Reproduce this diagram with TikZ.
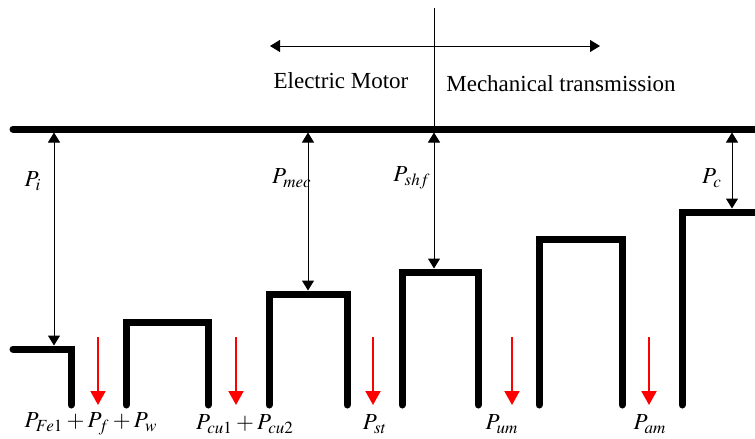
\documentclass[tikz,border=0pt]{standalone}
\usepackage{mathptmx}
\usepackage{fontspec}
\setmainfont{Liberation Serif}
\usetikzlibrary{arrows.meta,positioning}

\tikzset{
  wall/.style={line width=3.5pt,line join=miter,line cap=round},
  flow/.style={line width=0.5pt,{Triangle[length=5pt,width=6pt]}-{Triangle[length=5pt,width=6pt]}},
  loss/.style={red,line width=1pt,-{Triangle[length=7pt,width=7.5pt]}},
  lbl/.style={font=\fontsize{11.5}{13}\selectfont,inner sep=0pt}
}

\begin{document}
\begin{tikzpicture}[x=0.5pt,y=-0.5pt]
  \useasboundingbox (0,0) rectangle (755,439);
  % divider and direction
  \coordinate (divtop) at (434,8);
  \coordinate (divbot) at (434,129);
  \coordinate (dirL) at (270,46);
  \coordinate (dirR) at (600,46);
  \draw[line width=0.5pt] (divtop) -- (divbot);
  \draw[flow] (dirL) -- (dirR);
  \node[lbl,anchor=base] (motor) at (341,88) {Electric Motor};
  \node[lbl,anchor=base] (trans) at (561,91) {Mechanical transmission};
  % power bus
  \draw[wall] (13,129) -- (760,129);
  % stages
  \draw[wall] (13,349) -- (71,349) -- (71,405);
  \draw[wall] (126,405) -- (126,322) -- (208,322) -- (208,405);
  \draw[wall] (269,405) -- (269,294) -- (347,294) -- (347,405);
  \draw[wall] (402,405) -- (402,272) -- (478,272) -- (478,405);
  \draw[wall] (539,405) -- (539,239) -- (622,239) -- (622,405);
  \draw[wall] (682,405) -- (682,212) -- (760,212);
  % power levels
  \coordinate (iTop) at (54,132.5);   \coordinate (iBot) at (54,345.5);
  \coordinate (mecTop) at (308,132.5); \coordinate (mecBot) at (308,290.5);
  \coordinate (shfTop) at (434,132.5); \coordinate (shfBot) at (434,268.5);
  \coordinate (cTop) at (732,132.5);  \coordinate (cBot) at (732,208.5);
  \draw[flow] (iTop) -- (iBot);
  \draw[flow] (mecTop) -- (mecBot);
  \draw[flow] (shfTop) -- (shfBot);
  \draw[flow] (cTop) -- (cBot);
  \node[lbl] (Pi) at (33,181) {$P_i$};
  \node[lbl] (Pmec) at (292,178) {$P_{mec}$};
  \node[lbl] (Pshf) at (412,178) {$P_{shf}$};
  \node[lbl] (Pc) at (712,178) {$P_c$};
  % losses
  \foreach \x/\n in {98/fe,236/cu,373/st,512/um,649/am}{
    \coordinate (\n Top) at (\x,337);
    \coordinate (\n Bot) at (\x,405);
    \draw[loss] (\n Top) -- (\n Bot);
  }
  \node[lbl] (Pfe) at (91,424) {$P_{Fe1}+P_f+P_w$};
  \node[lbl] (Pcu) at (245,424) {$P_{cu1}+P_{cu2}$};
  \node[lbl] (Pst) at (375,424) {$P_{st}$};
  \node[lbl] (Pum) at (502,424) {$P_{um}$};
  \node[lbl] (Pam) at (650,424) {$P_{am}$};
\end{tikzpicture}
\end{document}
